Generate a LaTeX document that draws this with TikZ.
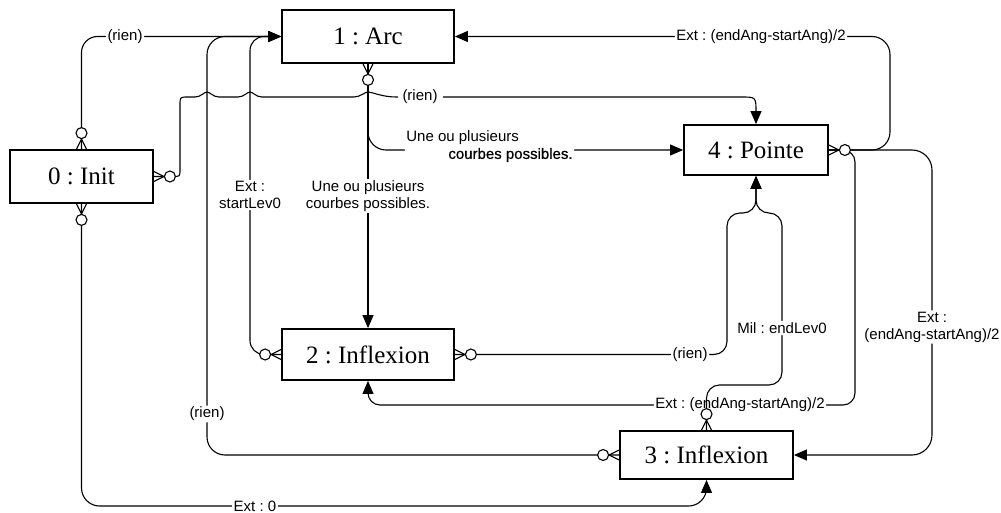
\documentclass[tikz,border=0pt]{standalone}
\usepackage{fontspec}
\setmainfont{Liberation Serif}
\newfontfamily\lsans{Liberation Sans}
\newfontfamily\lsansb[FakeBold=0.6]{Liberation Sans}
\usetikzlibrary{arrows.meta,calc}
\frenchspacing
\begin{document}
\frenchspacing
\begin{tikzpicture}[x=1pt,y=-1pt,
  box/.style={draw, line width=1.8pt, font=\fontsize{25}{30}\selectfont\frenchspacing, inner sep=0pt},
  conn/.style={line width=1.1pt, -{Triangle[length=13pt,width=11pt]}},
  lbl/.style={fill=white, font=\lsans\fontsize{15}{17}\selectfont\frenchspacing, inner sep=1.5pt, align=center},
  mk/.style={line width=1.1pt},
  zm/.pic={\draw[mk] (0,5) -- (10,0) -- (0,-5); \draw[mk,fill=white] (16,0) circle[radius=5.5pt];}
]
\useasboundingbox (0,0) rectangle (1001,513);

% nodes
\node[box, minimum width=172pt, minimum height=53pt] (arc) at (368,36.5) {1 : Arc};
\node[box, minimum width=143pt, minimum height=53pt] (init) at (81.5,176.5) {0 : Init};
\node[box, minimum width=144pt, minimum height=50pt] (pointe) at (756,150) {4 : Pointe};
\node[box, minimum width=172pt, minimum height=51pt] (inf2) at (368,354.5) {2 : Inflexion};
\node[box, minimum width=173pt, minimum height=48pt] (inf3) at (706.5,455) {3 : Inflexion};

% E1 init -> arc
\draw[conn, rounded corners=16] (init.north) -- (81.5,36.5) -- (arc.west)
  node[lbl] at (125,36.5) {(rien)};

% E2 init -> pointe (with hops)
\draw[conn] (init.east) -- (173,176.5) .. controls (180,176.5) .. (180,169.5) -- (180,105)
  .. controls (180,97) .. (188,97) -- (195,97)
  .. controls (201,97) and (204,92) .. (207,92) .. controls (210,92) and (213,97) .. (219,97) -- (238,97)
  .. controls (244,97) and (247,92) .. (250,92) .. controls (253,92) and (256,97) .. (262,97) -- (354,97)
  .. controls (360,97) and (365,92) .. (368,92) .. controls (372,92) and (382,97) .. (396,97) -- (741,97)
  .. controls (756,97) .. (756,112) -- (pointe.north)
  node[lbl, inner xsep=5pt] at (420,97) {(rien)};

% E3 arc -> pointe
\draw[conn, rounded corners=18] (arc.south) -- (368,150) -- (pointe.west)
  node[lbl, align=left, inner sep=2pt] at (489.5,146.5) {Une ou plusieurs\\\hspace*{42pt}{\lsansb courbes possibles.}};

% E4 arc -> inf2
\draw[conn] (arc.south) -- (inf2.north)
  node[lbl] at (368,196) {Une ou plusieurs\\courbes possibles.};

% E5 inf2 -> arc
\draw[conn, rounded corners=14] (inf2.west) -- (250,354.5) -- (250,36.5) -- (arc.west)
  node[lbl] at (250,195) {Ext :\\startLev0};

% E6 inf3 -> arc
\draw[conn, rounded corners=18] (inf3.west) -- (207,455) -- (207,36.5) -- (arc.west)
  node[lbl] at (207,414) {(rien)};

% E7 init -> inf3
\draw[conn, rounded corners=18] (init.south) -- (81.5,506) -- (706.5,506) -- (inf3.south)
  node[lbl] at (255,506) {Ext : 0};

% E8 pointe -> arc
\draw[conn, rounded corners=18] (pointe.east) -- (890,150) -- (890,36.5) -- (arc.east)
  node[lbl] at (761,36.5) {Ext : (endAng-startAng)/2};

% E9 pointe -> inf3
\draw[conn, rounded corners=20] (pointe.east) -- (932,150) -- (932,455) -- (inf3.east)
  node[lbl] at (932,327) {Ext :\\(endAng-startAng)/2};

% E10 pointe -> inf2
\draw[conn, rounded corners=12] (pointe.east) -- (855,150) -- (855,405) -- (368,405) -- (inf2.south)
  node[lbl] at (740,405) {Ext : (endAng-startAng)/2};

% E11 inf2 -> pointe
\draw[conn, rounded corners=13] (inf2.east) -- (727,354.5) -- (727,213) -- (756,213) -- (pointe.south)
  node[lbl] at (690,354.5) {(rien)};

% E12 inf3 -> pointe
\draw[conn, rounded corners=13] (inf3.north) -- (706.5,385) -- (782,385) -- (782,213) -- (756,213) -- (pointe.south)
  node[lbl] at (782,328) {Mil : endLev0};

% ER markers (zero or many)
\pic[rotate=90] at (init.north) {zm};
\pic at (init.east) {zm};
\pic[rotate=-90] at (init.south) {zm};
\pic[rotate=-90] at (arc.south) {zm};
\pic[rotate=180] at (inf2.west) {zm};
\pic at (inf2.east) {zm};
\pic[rotate=180] at (inf3.west) {zm};
\pic[rotate=90] at (inf3.north) {zm};
\pic at (pointe.east) {zm};
\end{tikzpicture}
\end{document}
